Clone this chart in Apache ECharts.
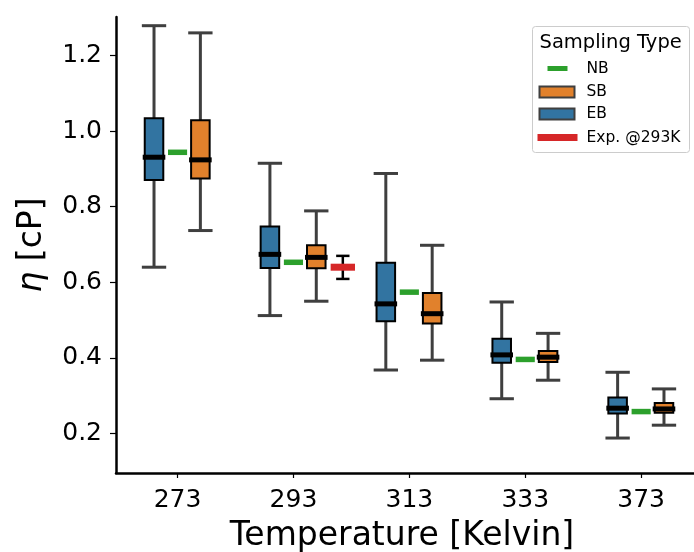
<!DOCTYPE html>
<html><head><meta charset="utf-8">
<script src="https://cdn.jsdelivr.net/npm/echarts@6/dist/echarts.min.js"></script>
<style>html,body{margin:0;padding:0;background:#fff}#c{width:694px;height:552px}</style>
</head><body><div id="c"></div>
<script>
// ---- data ----
const temperatures = ['273', '293', '313', '333', '373'];

const ebLow    = [0.640, 0.512, 0.368, 0.292, 0.188];
const ebQ1     = [0.871, 0.638, 0.497, 0.387, 0.253];
const ebMedian = [0.931, 0.674, 0.543, 0.408, 0.267];
const ebQ3     = [1.034, 0.748, 0.652, 0.451, 0.295];
const ebHigh   = [1.279, 0.915, 0.888, 0.548, 0.362];

const sbLow    = [0.737, 0.550, 0.394, 0.341, 0.222];
const sbQ1     = [0.875, 0.637, 0.491, 0.389, 0.255];
const sbMedian = [0.924, 0.666, 0.517, 0.402, 0.265];
const sbQ3     = [1.029, 0.698, 0.572, 0.418, 0.281];
const sbHigh   = [1.260, 0.789, 0.698, 0.465, 0.318];

const nbValue  = [0.944, 0.653, 0.574, 0.396, 0.258];

const expTemperature = ['293'];
const expValue = [0.640];
const expLow   = [0.609];
const expHigh  = [0.670];

const yTickValues = [0.2, 0.4, 0.6, 0.8, 1.0, 1.2];

// ---- styling ----
const FONT = 'DejaVu Sans';
const C_EB = '#3274a1', C_SB = '#e1812c', C_NB = '#2ca02c', C_EXP = '#d62728', C_WHISK = '#3f3f3f';

function boxData(low, q1, med, q3, high) {
  return temperatures.map((t, i) => [i, low[i], q1[i], med[i], q3[i], high[i]]);
}

function boxRender(offset, color) {
  return function (params, api) {
    const x = api.value(0) + offset;
    const pLow = api.coord([x, api.value(1)]);
    const pQ1 = api.coord([x, api.value(2)]);
    const pMed = api.coord([x, api.value(3)]);
    const pQ3 = api.coord([x, api.value(4)]);
    const pHigh = api.coord([x, api.value(5)]);
    const bw = api.size([0.16, 0])[0];
    const cw = api.size([0.21, 0])[0];
    const mw = api.size([0.195, 0])[0];
    const cx = pMed[0];
    const ws = { stroke: C_WHISK, lineWidth: 3, fill: null };
    return { type: 'group', children: [
      { type: 'line', shape: { x1: cx, y1: pLow[1], x2: cx, y2: pQ1[1] }, style: ws },
      { type: 'line', shape: { x1: cx, y1: pQ3[1], x2: cx, y2: pHigh[1] }, style: ws },
      { type: 'line', shape: { x1: cx - cw / 2, y1: pLow[1], x2: cx + cw / 2, y2: pLow[1] }, style: ws },
      { type: 'line', shape: { x1: cx - cw / 2, y1: pHigh[1], x2: cx + cw / 2, y2: pHigh[1] }, style: ws },
      { type: 'rect', shape: { x: cx - bw / 2, y: pQ3[1], width: bw, height: pQ1[1] - pQ3[1] },
        style: { fill: color, stroke: '#000', lineWidth: 2 } },
      { type: 'line', shape: { x1: cx - mw / 2, y1: pMed[1], x2: cx + mw / 2, y2: pMed[1] },
        style: { stroke: '#000', lineWidth: 5 } }
    ]};
  };
}

const nbData = temperatures.map((t, i) => [i, nbValue[i]]);
const expData = expTemperature.map((t, k) => [temperatures.indexOf(t), expValue[k], expLow[k], expHigh[k]]);

const chart = echarts.init(document.getElementById('c'), null, { renderer: 'canvas' });

const legendX = 532, legendY = 26;
const option = {
  animation: false,
  backgroundColor: '#fff',
  grid: { left: 116, right: 0, top: 17, bottom: 79, containLabel: false, outerBoundsMode: 'none' },
  xAxis: {
    type: 'value', min: -0.531, max: 4.456,
    splitLine: { show: false },
    axisLine: { show: true, onZero: false, lineStyle: { color: '#000', width: 2.5 } },
    axisTick: { show: true, customValues: [0, 1, 2, 3, 4], length: 5, lineStyle: { color: '#000', width: 1.2 } },
    axisLabel: { customValues: [0, 1, 2, 3, 4], formatter: v => temperatures[Math.round(v)],
      fontSize: 25, color: '#000', fontFamily: FONT, margin: 15 },
    name: 'Temperature [Kelvin]', nameLocation: 'middle', nameGap: 47,
    nameTextStyle: { fontSize: 33, color: '#000', fontFamily: FONT, padding: [0, 6, 0, 0] }
  },
  yAxis: {
    type: 'value', min: 0.0955, max: 1.302,
    splitLine: { show: false },
    axisLine: { show: true, onZero: false, lineStyle: { color: '#000', width: 2.5 } },
    axisTick: { show: true, customValues: yTickValues, length: 6, lineStyle: { color: '#000', width: 1.2 } },
    axisLabel: { customValues: yTickValues, formatter: v => v.toFixed(1),
      fontSize: 25, color: '#000', fontFamily: FONT, margin: 14 },
    name: '{i|η} [cP]', nameLocation: 'middle', nameGap: 67, nameRotate: 90,
    nameTextStyle: { fontSize: 33, color: '#000', fontFamily: FONT,
      rich: { i: { fontStyle: 'italic', fontSize: 33, color: '#000', fontFamily: FONT } } }
  },
  series: [
    { name: 'EB', type: 'custom', data: boxData(ebLow, ebQ1, ebMedian, ebQ3, ebHigh),
      renderItem: boxRender(-0.203, C_EB), clip: false, z: 2 },
    { name: 'SB', type: 'custom', data: boxData(sbLow, sbQ1, sbMedian, sbQ3, sbHigh),
      renderItem: boxRender(0.197, C_SB), clip: false, z: 2 },
    { name: 'NB', type: 'custom', data: nbData, clip: false, z: 3,
      renderItem: function (params, api) {
        const p = api.coord([api.value(0), api.value(1)]);
        const w = api.size([0.165, 0])[0];
        return { type: 'line', shape: { x1: p[0] - w / 2, y1: p[1], x2: p[0] + w / 2, y2: p[1] },
          style: { stroke: C_NB, lineWidth: 5.5 } };
      } },
    { name: 'Exp. @293K', type: 'custom', data: expData, clip: false, z: 3,
      renderItem: function (params, api) {
        const x = api.value(0) + 0.426;
        const p = api.coord([x, api.value(1)]);
        const pl = api.coord([x, api.value(2)]);
        const ph = api.coord([x, api.value(3)]);
        const w = api.size([0.21, 0])[0];
        const cw = api.size([0.115, 0])[0];
        const es = { stroke: '#000', lineWidth: 2.5 };
        return { type: 'group', children: [
          { type: 'line', shape: { x1: p[0], y1: pl[1], x2: p[0], y2: ph[1] }, style: es },
          { type: 'line', shape: { x1: p[0] - cw / 2, y1: pl[1], x2: p[0] + cw / 2, y2: pl[1] }, style: es },
          { type: 'line', shape: { x1: p[0] - cw / 2, y1: ph[1], x2: p[0] + cw / 2, y2: ph[1] }, style: es },
          { type: 'line', shape: { x1: p[0] - w / 2, y1: p[1], x2: p[0] + w / 2, y2: p[1] },
            style: { stroke: C_EXP, lineWidth: 7 } }
        ]};
      } }
  ],
  graphic: [{
    type: 'group', left: legendX, top: legendY, z: 100,
    children: [
      { type: 'rect', shape: { x: 0, y: 0, width: 157, height: 126, r: 3 },
        style: { fill: 'rgba(255,255,255,0.85)', stroke: '#cccccc', lineWidth: 1 } },
      { type: 'text', x: 7, y: 16, style: { text: 'Sampling Type', font: '19.5px "DejaVu Sans"', fill: '#000', textVerticalAlign: 'middle' } },
      { type: 'line', shape: { x1: 15, y1: 42, x2: 35, y2: 42 }, style: { stroke: C_NB, lineWidth: 5 } },
      { type: 'text', x: 54, y: 42, style: { text: 'NB', font: '15.5px "DejaVu Sans"', fill: '#000', textVerticalAlign: 'middle' } },
      { type: 'rect', shape: { x: 7, y: 60, width: 35, height: 11 }, style: { fill: C_SB, stroke: C_WHISK, lineWidth: 2 } },
      { type: 'text', x: 54, y: 65.5, style: { text: 'SB', font: '15.5px "DejaVu Sans"', fill: '#000', textVerticalAlign: 'middle' } },
      { type: 'rect', shape: { x: 7, y: 82, width: 35, height: 11 }, style: { fill: C_EB, stroke: C_WHISK, lineWidth: 2 } },
      { type: 'text', x: 54, y: 87.5, style: { text: 'EB', font: '15.5px "DejaVu Sans"', fill: '#000', textVerticalAlign: 'middle' } },
      { type: 'line', shape: { x1: 5, y1: 111, x2: 45, y2: 111 }, style: { stroke: C_EXP, lineWidth: 7 } },
      { type: 'text', x: 54, y: 111, style: { text: 'Exp. @293K', font: '15.5px "DejaVu Sans"', fill: '#000', textVerticalAlign: 'middle' } }
    ]
  }]
};
chart.setOption(option);
</script>
</body></html>
